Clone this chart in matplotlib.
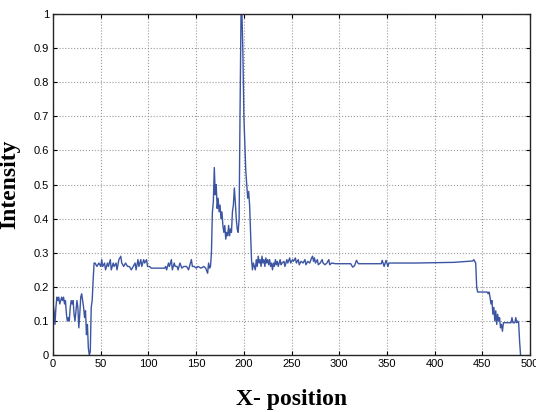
import matplotlib

matplotlib.use("Agg")
import matplotlib.pyplot as plt

# intensity profile (x position, intensity)
x_pos = [
    0, 1, 2, 3, 4, 5, 6, 7, 8, 9, 10, 11, 12, 13, 14, 15, 16, 17, 18, 19,
    20, 21, 22, 23, 24, 25, 26, 27, 28, 29, 30, 31, 32, 33, 34, 35, 36, 37, 38, 39,
    40, 41, 42, 43,
    44, 46, 48, 50, 51, 52, 54, 55, 57, 58, 60, 61, 63, 64, 66, 67, 69, 71, 72, 74,
    76, 78, 80, 82, 84, 86, 87, 89, 90, 92, 93, 95, 96, 98, 99, 101, 103, 110, 117, 118,
    119, 121, 122, 124, 125, 127, 128, 130, 131, 133, 135, 137, 140, 142, 144, 145, 146, 148, 150, 152,
    155, 158, 160, 162, 163, 164, 165,
    166, 167, 168, 169, 170, 171, 172, 173, 174, 175, 176, 177, 178, 179, 180, 181, 182, 183, 184, 185,
    186, 187, 188, 189, 190, 191, 192, 193, 194, 195, 196, 197, 198, 199, 200, 201, 202, 203, 204, 205,
    206, 207, 208, 209, 210,
    212, 213, 214, 215, 216, 217, 218, 219, 220, 221, 222, 223, 224, 225, 226, 227, 228, 229, 230, 231,
    232, 233, 234, 235, 236, 238, 239, 240, 242, 243, 245, 246, 248, 249, 251, 252, 254, 255, 257, 258,
    260, 262, 264, 265, 267, 269, 271, 272, 273, 274, 275, 277, 278, 280, 282, 283, 285, 287, 289, 290,
    292, 296, 300,
    312, 314, 316, 318, 320, 344, 345, 347, 349, 351, 352, 380, 420, 440, 441, 443,
    444, 445, 455, 456, 457, 458, 459, 460, 461, 462, 463, 464, 465, 466, 467, 468, 469, 470, 471, 472,
    480, 481, 482, 484, 485, 486, 487, 488, 489, 490,
]
intensity = [
    0.15, 0.13, 0.09, 0.14, 0.17, 0.16, 0.17, 0.15, 0.16, 0.17, 0.16, 0.17, 0.15, 0.16, 0.12, 0.10, 0.11, 0.10, 0.14, 0.16,
    0.15, 0.16, 0.12, 0.10, 0.13, 0.16, 0.14, 0.08, 0.12, 0.17, 0.18, 0.16, 0.14, 0.11, 0.13, 0.06, 0.09, 0.02, 0.00, 0.01,
    0.14, 0.16, 0.22, 0.27,
    0.27, 0.26, 0.27, 0.26, 0.28, 0.26, 0.27, 0.25, 0.27, 0.26, 0.28, 0.25, 0.27, 0.26, 0.27, 0.25, 0.28, 0.29, 0.27, 0.26,
    0.27, 0.26, 0.26, 0.25, 0.26, 0.27, 0.25, 0.28, 0.26, 0.28, 0.26, 0.28, 0.27, 0.28, 0.26, 0.26, 0.255, 0.255, 0.255, 0.26,
    0.25, 0.27, 0.26, 0.28, 0.25, 0.27, 0.26, 0.26, 0.25, 0.27, 0.255, 0.26, 0.26, 0.25, 0.27, 0.28, 0.26, 0.26, 0.255, 0.26,
    0.255, 0.26, 0.255, 0.24, 0.27, 0.255, 0.26,
    0.30, 0.42, 0.45, 0.55, 0.47, 0.50, 0.43, 0.46, 0.42, 0.44, 0.40, 0.42, 0.38, 0.36, 0.38, 0.34, 0.36, 0.35, 0.38, 0.35,
    0.37, 0.36, 0.42, 0.44, 0.49, 0.45, 0.40, 0.37, 0.36, 0.40, 0.72, 1.00, 1.00, 0.88, 0.70, 0.62, 0.54, 0.50, 0.46, 0.48,
    0.44, 0.36, 0.28, 0.25, 0.27,
    0.25, 0.28, 0.26, 0.29, 0.27, 0.28, 0.26, 0.29, 0.27, 0.28, 0.26, 0.285, 0.27, 0.28, 0.265, 0.28, 0.26, 0.27, 0.25, 0.27,
    0.26, 0.28, 0.265, 0.275, 0.26, 0.28, 0.265, 0.27, 0.275, 0.26, 0.28, 0.27, 0.285, 0.27, 0.28, 0.275, 0.285, 0.27, 0.28, 0.265,
    0.275, 0.27, 0.28, 0.265, 0.275, 0.27, 0.285, 0.29, 0.275, 0.285, 0.27, 0.28, 0.265, 0.27, 0.28, 0.27, 0.265, 0.27, 0.28, 0.265,
    0.27, 0.268, 0.268,
    0.268, 0.258, 0.262, 0.278, 0.268, 0.268, 0.278, 0.26, 0.278, 0.26, 0.27, 0.27, 0.272, 0.276, 0.28, 0.27,
    0.20, 0.185, 0.185, 0.18, 0.185, 0.17, 0.15, 0.16, 0.12, 0.14, 0.10, 0.13, 0.09, 0.12, 0.10, 0.11, 0.08, 0.09, 0.07, 0.095,
    0.095, 0.11, 0.095, 0.095, 0.11, 0.095, 0.10, 0.095, 0.04, 0.00,
]

x_ticks = [0, 50, 100, 150, 200, 250, 300, 350, 400, 450, 500]
y_ticks = [0, 0.1, 0.2, 0.3, 0.4, 0.5, 0.6, 0.7, 0.8, 0.9, 1]
y_labels = ["0", "0.1", "0.2", "0.3", "0.4", "0.5", "0.6", "0.7", "0.8", "0.9", "1"]

fig = plt.figure(figsize=(5.36, 4.12), dpi=100)
ax = fig.add_axes([0.099, 0.138, 0.890, 0.828])

ax.plot(x_pos, intensity, color="#3c55a3", lw=1.0)

ax.set_xlim(0, 500)
ax.set_ylim(0, 1)
ax.set_xticks(x_ticks)
ax.set_yticks(y_ticks)
ax.set_yticklabels(y_labels)
ax.tick_params(direction="in", top=True, right=True, length=3, labelsize=8, pad=3)
for lab in ax.get_xticklabels() + ax.get_yticklabels():
    lab.set_family("Liberation Sans")
ax.grid(True, color="0.6", ls=":", lw=0.8)
for sp in ax.spines.values():
    sp.set_linewidth(1.0)
    sp.set_color("0.15")

ax.set_xlabel("X- position", family="Liberation Serif", fontweight="bold", fontsize=17, labelpad=14)
ax.yaxis.set_label_coords(-0.068, 0.52)
ax.set_ylabel("Intensity", family="Liberation Serif", fontweight="bold", fontsize=17)

fig.savefig("out.png", dpi=100)
